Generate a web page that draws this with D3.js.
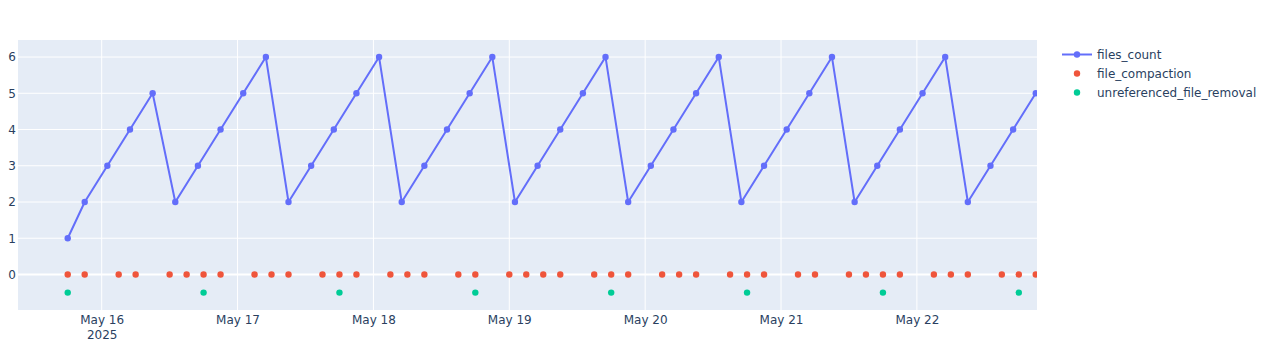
<!DOCTYPE html>
<html>
<head>
<meta charset="utf-8">
<script src="https://cdn.jsdelivr.net/npm/d3@7"></script>
<style>
  html, body { margin: 0; padding: 0; background: #fff; }
  svg { display: block; font-family: "DejaVu Sans", Verdana, sans-serif; }
</style>
</head>
<body>
<svg id="chart" width="1269" height="355"></svg>
<script>
// ---- data ----
const filesCountTimes = [
  "2025-05-15T18:00", "2025-05-15T21:00",
  "2025-05-16T01:00", "2025-05-16T05:00", "2025-05-16T09:00", "2025-05-16T13:00", "2025-05-16T17:00", "2025-05-16T21:00",
  "2025-05-17T01:00", "2025-05-17T05:00", "2025-05-17T09:00", "2025-05-17T13:00", "2025-05-17T17:00", "2025-05-17T21:00",
  "2025-05-18T01:00", "2025-05-18T05:00", "2025-05-18T09:00", "2025-05-18T13:00", "2025-05-18T17:00", "2025-05-18T21:00",
  "2025-05-19T01:00", "2025-05-19T05:00", "2025-05-19T09:00", "2025-05-19T13:00", "2025-05-19T17:00", "2025-05-19T21:00",
  "2025-05-20T01:00", "2025-05-20T05:00", "2025-05-20T09:00", "2025-05-20T13:00", "2025-05-20T17:00", "2025-05-20T21:00",
  "2025-05-21T01:00", "2025-05-21T05:00", "2025-05-21T09:00", "2025-05-21T13:00", "2025-05-21T17:00", "2025-05-21T21:00",
  "2025-05-22T01:00", "2025-05-22T05:00", "2025-05-22T09:00", "2025-05-22T13:00", "2025-05-22T17:00", "2025-05-22T21:00"
];
const filesCountValues = [
  1, 2,
  3, 4, 5, 2, 3, 4,
  5, 6, 2, 3, 4, 5,
  6, 2, 3, 4, 5, 6,
  2, 3, 4, 5, 6, 2,
  3, 4, 5, 6, 2, 3,
  4, 5, 6, 2, 3, 4,
  5, 6, 2, 3, 4, 5
];
const compactionTimes = [
  "2025-05-15T18:00", "2025-05-15T21:00",
  "2025-05-16T03:00", "2025-05-16T06:00", "2025-05-16T12:00", "2025-05-16T15:00", "2025-05-16T18:00", "2025-05-16T21:00",
  "2025-05-17T03:00", "2025-05-17T06:00", "2025-05-17T09:00", "2025-05-17T15:00", "2025-05-17T18:00", "2025-05-17T21:00",
  "2025-05-18T03:00", "2025-05-18T06:00", "2025-05-18T09:00", "2025-05-18T15:00", "2025-05-18T18:00",
  "2025-05-19T00:00", "2025-05-19T03:00", "2025-05-19T06:00", "2025-05-19T09:00", "2025-05-19T15:00", "2025-05-19T18:00", "2025-05-19T21:00",
  "2025-05-20T03:00", "2025-05-20T06:00", "2025-05-20T09:00", "2025-05-20T15:00", "2025-05-20T18:00", "2025-05-20T21:00",
  "2025-05-21T03:00", "2025-05-21T06:00", "2025-05-21T12:00", "2025-05-21T15:00", "2025-05-21T18:00", "2025-05-21T21:00",
  "2025-05-22T03:00", "2025-05-22T06:00", "2025-05-22T09:00", "2025-05-22T15:00", "2025-05-22T18:00", "2025-05-22T21:00"
];
const compactionValue = 0;
const removalTimes = [
  "2025-05-15T18:00", "2025-05-16T18:00", "2025-05-17T18:00", "2025-05-18T18:00",
  "2025-05-19T18:00", "2025-05-20T18:00", "2025-05-21T18:00", "2025-05-22T18:00"
];
const removalValue = -0.5;
const xTickDates = ["2025-05-16", "2025-05-17", "2025-05-18", "2025-05-19", "2025-05-20", "2025-05-21", "2025-05-22"];
const yTicks = [0, 1, 2, 3, 4, 5, 6];
const xRange = ["2025-05-15T09:13", "2025-05-22T21:13"];
const yRange = [-0.98, 6.47];
const seriesNames = ["files_count", "file_compaction", "unreferenced_file_removal"];
const seriesColors = ["#636efa", "#EF553B", "#00cc96"];

// ---- layout ----
const FONT = '"DejaVu Sans", Verdana, sans-serif';
const parse = d3.isoParse;
const pL = 18, pR = 1037, pT = 40, pB = 310;
const svg = d3.select("#chart");

const x = d3.scaleTime().domain(xRange.map(parse)).range([pL, pR]);
const y = d3.scaleLinear().domain(yRange).range([pB, pT]);

svg.append("rect").attr("x", pL).attr("y", pT)
  .attr("width", pR - pL).attr("height", pB - pT).attr("fill", "#E5ECF6");

// grid
const grid = svg.append("g");
grid.selectAll("line.xg").data(xTickDates).join("line")
  .attr("x1", d => x(parse(d))).attr("x2", d => x(parse(d)))
  .attr("y1", pT).attr("y2", pB)
  .attr("stroke", "#fff").attr("stroke-width", 1);
grid.selectAll("line.yg").data(yTicks.filter(v => v !== 0)).join("line")
  .attr("x1", pL).attr("x2", pR)
  .attr("y1", d => y(d)).attr("y2", d => y(d))
  .attr("stroke", "#fff").attr("stroke-width", 1);
grid.append("line")
  .attr("x1", pL).attr("x2", pR).attr("y1", y(0)).attr("y2", y(0))
  .attr("stroke", "#fff").attr("stroke-width", 2);

// axes
const yAxis = d3.axisLeft(y).tickValues(yTicks).tickSize(0).tickPadding(0).tickFormat(d3.format("d"));
const gy = svg.append("g").attr("transform", `translate(${pL - 2},0)`).call(yAxis);
gy.select(".domain").remove();
gy.selectAll("text").attr("fill", "#2a3f5f").attr("font-size", 12)
  .attr("font-family", FONT);

const fmt = d3.timeFormat("%b %-d");
const xAxis = d3.axisBottom(x).tickValues(xTickDates.map(parse)).tickSize(0).tickPadding(0).tickFormat(fmt);
const gx = svg.append("g").attr("transform", `translate(0,${pB})`).call(xAxis);
gx.select(".domain").remove();
gx.selectAll("text").attr("fill", "#2a3f5f").attr("font-size", 12)
  .attr("font-family", FONT)
  .attr("dy", null).attr("y", 14);
gx.selectAll(".tick").filter((d, i) => i === 0).select("text")
  .append("tspan").attr("x", 0).attr("dy", 15).text(d3.timeFormat("%Y")(parse(xTickDates[0])));

// clip
svg.append("clipPath").attr("id", "clip").append("rect")
  .attr("x", pL).attr("y", pT).attr("width", pR - pL).attr("height", pB - pT);
const plot = svg.append("g").attr("clip-path", "url(#clip)");

const fc = filesCountTimes.map((t, i) => ({ t: parse(t), v: filesCountValues[i] }));
plot.append("path").datum(fc)
  .attr("d", d3.line().x(d => x(d.t)).y(d => y(d.v)))
  .attr("fill", "none").attr("stroke", seriesColors[0]).attr("stroke-width", 2)
  .attr("stroke-linejoin", "round");
plot.selectAll("circle.fc").data(fc).join("circle")
  .attr("cx", d => x(d.t)).attr("cy", d => y(d.v)).attr("r", 3.2).attr("fill", seriesColors[0]);

plot.selectAll("circle.cp").data(compactionTimes).join("circle")
  .attr("cx", d => x(parse(d))).attr("cy", y(compactionValue)).attr("r", 3.2).attr("fill", seriesColors[1]);

plot.selectAll("circle.rm").data(removalTimes).join("circle")
  .attr("cx", d => x(parse(d))).attr("cy", y(removalValue)).attr("r", 3.2).attr("fill", seriesColors[2]);

// legend
const legend = svg.append("g").attr("transform", "translate(1057,54.5)");
seriesNames.forEach((name, i) => {
  const g = legend.append("g").attr("transform", `translate(0,${i * 19})`);
  if (i === 0) {
    g.append("line").attr("x1", 5).attr("x2", 35).attr("y1", 0).attr("y2", 0)
      .attr("stroke", seriesColors[0]).attr("stroke-width", 2);
  }
  g.append("circle").attr("cx", 20).attr("cy", 0).attr("r", 3.2).attr("fill", seriesColors[i]);
  g.append("text").attr("x", 40).attr("y", 0).attr("dy", "0.35em")
    .attr("font-size", 12).attr("font-family", FONT).attr("fill", "#2a3f5f").text(name);
});
</script>
</body>
</html>
